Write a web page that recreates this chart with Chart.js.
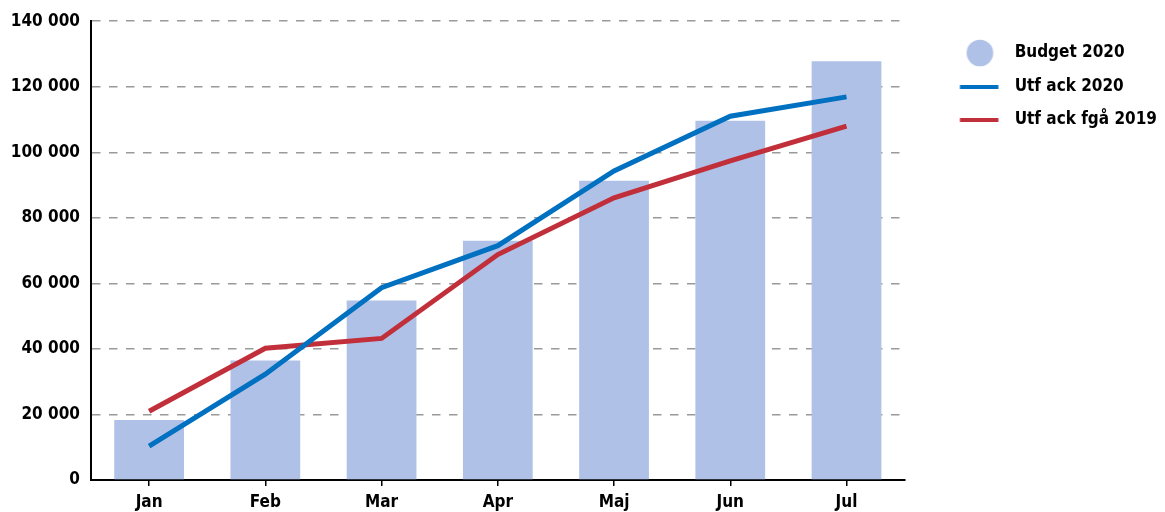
<!DOCTYPE html>
<html><head><meta charset="utf-8">
<script src="https://cdn.jsdelivr.net/npm/chart.js@4"></script>
<style>html,body{margin:0;padding:0;background:#fff}#wrap{width:1165px;height:512px}</style>
</head><body><div id="wrap"><canvas id="c" width="1165" height="512"></canvas></div>
<script>
const categories = ['Jan', 'Feb', 'Mar', 'Apr', 'Maj', 'Jun', 'Jul'];
const budget2020 = [18300, 36500, 54800, 73000, 91300, 109600, 127800];
const utfAck2020 = [10300, 32300, 58700, 71500, 94300, 111000, 116900];
const utfAckFga2019 = [21000, 40200, 43200, 68800, 86100, 97400, 108000];
const seriesNames = ['Budget 2020', 'Utf ack 2020', 'Utf ack fgå 2019'];
const yMin = 0, yMax = 140000, yStep = 20000;

const COL_BAR = '#afc1e7', COL_BLUE = '#0070c0', COL_RED = '#c1303a';
const FONT = {family: '"DejaVu Sans Condensed", "DejaVu Sans", sans-serif', size: 17, weight: 'bold'};

function fmt(v) { return String(v).replace(/\B(?=(\d{3})+(?!\d))/g, ' '); }

function circleImg(color) {
  const c = document.createElement('canvas'); c.width = 74; c.height = 28;
  const x = c.getContext('2d'); x.fillStyle = color; x.beginPath(); x.arc(53.3, 14, 13.3, 0, Math.PI * 2); x.fill();
  return c;
}
function lineImg(color) {
  const c = document.createElement('canvas'); c.width = 74; c.height = 4;
  const x = c.getContext('2d'); x.fillStyle = color; x.fillRect(33.3, 0, 38.5, 4);
  return c;
}
const legendImgs = [circleImg(COL_BAR), lineImg(COL_BLUE), lineImg(COL_RED)];

new Chart(document.getElementById('c'), {
  type: 'bar',
  data: {
    labels: categories,
    datasets: [
      {type: 'bar', label: seriesNames[0], data: budget2020, backgroundColor: COL_BAR, borderWidth: 0,
       barPercentage: 0.6, categoryPercentage: 1, order: 3},
      {type: 'line', label: seriesNames[1], data: utfAck2020, borderColor: COL_BLUE, backgroundColor: COL_BLUE,
       borderWidth: 5, pointRadius: 0, tension: 0, fill: false, order: 1},
      {type: 'line', label: seriesNames[2], data: utfAckFga2019, borderColor: COL_RED, backgroundColor: COL_RED,
       borderWidth: 5, pointRadius: 0, tension: 0, fill: false, order: 2}
    ]
  },
  options: {
    responsive: false, animation: false, devicePixelRatio: 1,
    layout: {padding: {left: 0, top: 20, right: -2, bottom: 0}},
    plugins: {
      tooltip: {enabled: false},
      legend: {
        position: 'right', align: 'start',
        title: {display: true, text: '', font: {size: 8, lineHeight: 1}, padding: 0},
        labels: {
          usePointStyle: true, pointStyleWidth: 85, boxHeight: 17, padding: 16.5,
          color: '#000', font: FONT,
          sort: (a, b) => a.datasetIndex - b.datasetIndex,
          generateLabels(chart) {
            const items = Chart.defaults.plugins.legend.labels.generateLabels(chart);
            items.forEach(it => { it.pointStyle = legendImgs[it.datasetIndex]; });
            return items;
          }
        }
      }
    },
    scales: {
      x: {
        grid: {display: true, drawOnChartArea: false, drawTicks: true, tickLength: 6, color: '#000', lineWidth: 1.5, offset: false},
        border: {display: true, color: '#000', width: 2},
        ticks: {color: '#000', font: FONT, padding: 6, maxRotation: 0},
        afterFit(s) { s.height = 32; }
      },
      y: {
        min: yMin, max: yMax,
        grid: {color: '#9a9a9a', lineWidth: 1.5, drawTicks: false},
        border: {display: true, color: '#000', width: 2, dash: [8.5, 8.5]},
        ticks: {stepSize: yStep, color: '#000', font: FONT, padding: 11, callback: v => fmt(v)},
        afterFit(s) { s.width = 91; }
      }
    }
  }
});
</script></body></html>
